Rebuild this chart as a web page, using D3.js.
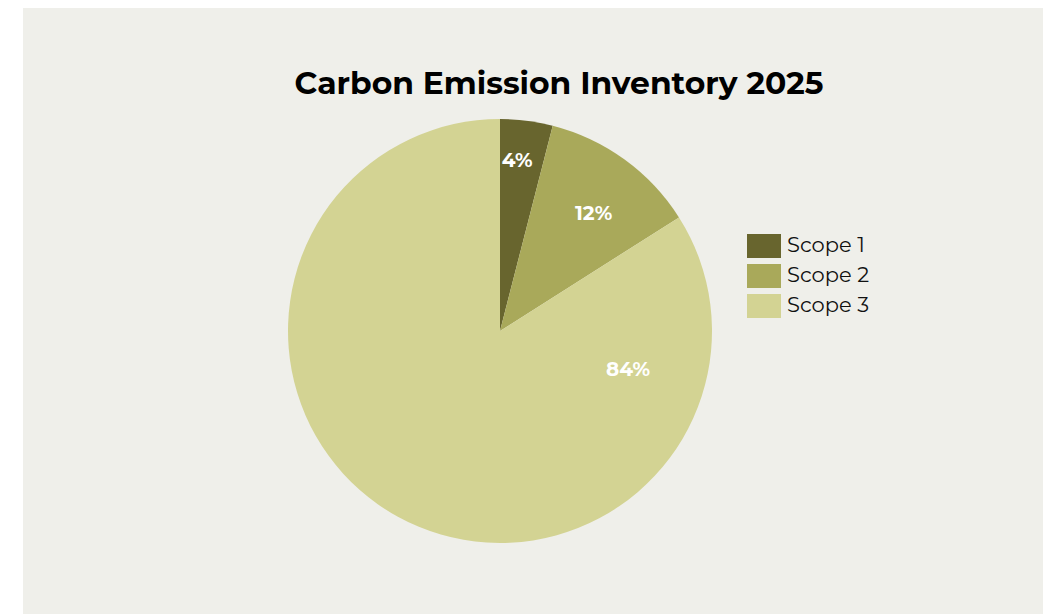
<!DOCTYPE html>
<html>
<head>
<meta charset="utf-8">
<script src="https://cdn.jsdelivr.net/npm/d3@7"></script>
<style>
  body { margin: 0; background: #fff; }
  svg { display: block; }
</style>
</head>
<body>
<div id="svg-container"></div>
<script>
const categories = ['Scope 1', 'Scope 2', 'Scope 3']
const shares = [4, 12, 84]
const colors = ['#68652e', '#a9a95a', '#d3d393']

const svgWidth = 1043
const svgHeight = 614
const cx = 500
const cy = 331
const radius = 212

// label placement: [radius fraction, angle in degrees from top]
const labelPlacement = [
  [0.81, 5.7],
  [0.71, 38.5],
  [0.63, 106.5],
]

const svg = d3
  .select('#svg-container')
  .append('svg')
  .attr('width', svgWidth)
  .attr('height', svgHeight)

svg
  .append('rect')
  .attr('x', 23)
  .attr('y', 8)
  .attr('width', svgWidth - 23)
  .attr('height', svgHeight - 8)
  .attr('fill', '#efefea')

svg
  .append('text')
  .attr('x', 559)
  .attr('y', 94)
  .attr('text-anchor', 'middle')
  .style('font-family', 'Montserrat, "Noto Sans", sans-serif')
  .style('font-weight', 700)
  .style('font-size', '31.4px')
  .attr('fill', '#000')
  .text('Carbon Emission Inventory 2025')

const pie = d3.pie().sort(null).value(d => d)
const arcs = pie(shares)
const arc = d3.arc().innerRadius(0).outerRadius(radius)

const pieGroup = svg.append('g').attr('transform', `translate(${cx}, ${cy})`)

pieGroup
  .selectAll('path')
  .data(arcs)
  .join('path')
  .attr('d', arc)
  .attr('fill', (d, i) => colors[i])

pieGroup
  .selectAll('text')
  .data(arcs)
  .join('text')
  .attr('transform', (d, i) => {
    const [f, deg] = labelPlacement[i]
    const a = (deg * Math.PI) / 180
    return `translate(${Math.sin(a) * radius * f}, ${-Math.cos(a) * radius * f})`
  })
  .attr('text-anchor', 'middle')
  .attr('dominant-baseline', 'central')
  .style('font-family', 'Montserrat, "Noto Sans", sans-serif')
  .style('font-weight', 700)
  .style('font-size', '20px')
  .attr('fill', '#fff')
  .text(d => `${d.data}%`)

const yLegend = d3.scaleBand().domain(categories).range([234, 318]).paddingInner(0.2)

const legend = svg.append('g')
const items = legend
  .selectAll('g')
  .data(categories)
  .join('g')
  .attr('transform', d => `translate(747, ${yLegend(d)})`)

items
  .append('rect')
  .attr('width', 34)
  .attr('height', yLegend.bandwidth())
  .attr('fill', (d, i) => colors[i])

items
  .append('text')
  .attr('x', 40)
  .attr('y', yLegend.bandwidth() / 2 - 2)
  .attr('dominant-baseline', 'central')
  .style('font-family', 'Montserrat, "Noto Sans", sans-serif')
  .style('font-size', '21px')
  .attr('fill', '#111')
  .text(d => d)
</script>
</body>
</html>
